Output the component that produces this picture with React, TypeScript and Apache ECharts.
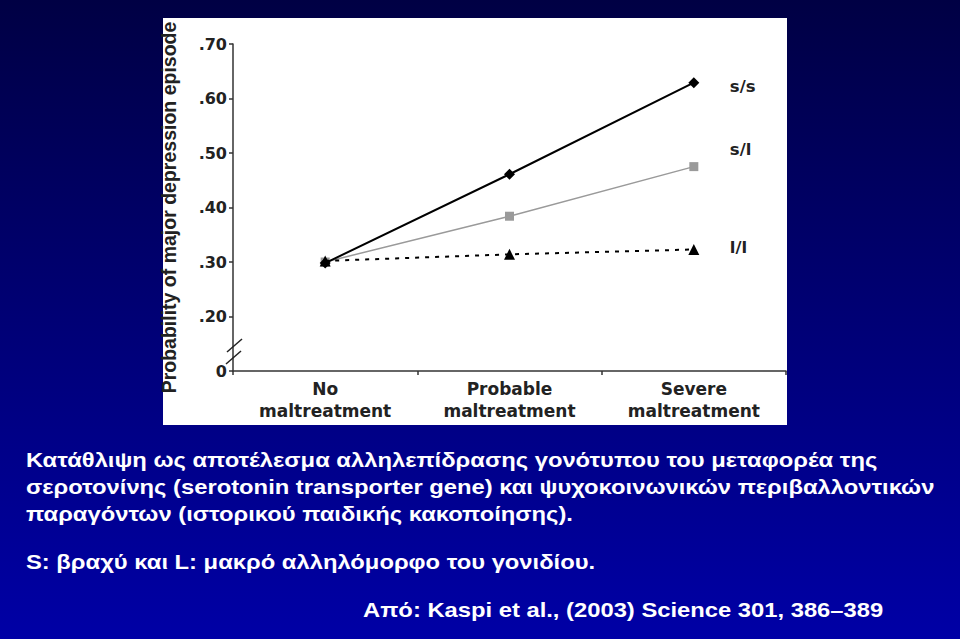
import React, { useEffect, useRef } from "react";
import * as echarts from "echarts";

const categories = ["No\nmaltreatment", "Probable\nmaltreatment", "Severe\nmaltreatment"];
const ssValues = [0.298, 0.461, 0.629];
const slValues = [0.3, 0.384, 0.475];
const llValues = [0.302, 0.314, 0.323];
const seriesNames = ["s/s", "s/l", "l/l"];
const yAxisTitle = "Probability of major depression episode";
const captionLines = [
  "Κατάθλιψη ως αποτέλεσμα αλληλεπίδρασης γονότυπου του μεταφορέα της",
  "σεροτονίνης (serotonin transporter gene) και ψυχοκοινωνικών περιβαλλοντικών",
  "παραγόντων (ιστορικού παιδικής κακοποίησης).",
  "S: βραχύ και L: μακρό αλληλόμορφο του γονιδίου.",
];
const sourceLine = "Από: Kaspi et al., (2003) Science 301, 386–389";

const chartFont = "DejaVu Sans";
const labelColor = "#222";

export default function App() {
  const ref = useRef<HTMLDivElement>(null);
  useEffect(() => {
    if (!ref.current) return;
    const chart = echarts.init(ref.current, null, { renderer: "svg" });
    const captionY = [460, 487, 514, 562];
    const captionFont = 'bold 20.5px "Liberation Sans"';
    const endLabel = (dy: number) => ({
      show: true,
      formatter: "{a}",
      distance: 36,
      offset: [0, dy],
      color: labelColor,
      fontFamily: chartFont,
      fontWeight: "bold",
      fontSize: 16.5,
    });
    chart.setOption({
      animation: false,
      backgroundColor: {
        type: "linear",
        x: 0,
        y: 0,
        x2: 0,
        y2: 1,
        colorStops: [
          { offset: 0, color: "#000044" },
          { offset: 1, color: "#0000a6" },
        ],
      },
      grid: { left: 233, right: 174, top: 44, bottom: 268 },
      xAxis: {
        type: "category",
        data: categories,
        boundaryGap: true,
        axisLine: { lineStyle: { color: "#333", width: 1.5 } },
        axisTick: { show: true, length: 4, lineStyle: { color: "#333", width: 1.5 } },
        axisLabel: {
          color: labelColor,
          fontFamily: chartFont,
          fontWeight: "bold",
          fontSize: 17,
          lineHeight: 22,
          margin: 7,
        },
      },
      yAxis: {
        type: "value",
        min: 0.1,
        max: 0.7,
        interval: 0.1,
        name: yAxisTitle,
        nameLocation: "middle",
        nameGap: 54,
        nameTextStyle: {
          color: labelColor,
          fontFamily: "Liberation Sans",
          fontWeight: "bold",
          fontSize: 19.5,
        },
        splitLine: { show: false },
        axisLine: { show: true, lineStyle: { color: "#333", width: 1.5 } },
        axisTick: { show: true, length: 4, lineStyle: { color: "#333", width: 1.5 } },
        axisLabel: {
          color: labelColor,
          fontFamily: chartFont,
          fontWeight: "bold",
          fontSize: 16,
          margin: 6,
          formatter: (v: number) => (v < 0.15 ? "0" : "." + Math.round(v * 100)),
        },
      },
      series: [
        {
          name: seriesNames[1],
          type: "line",
          data: slValues,
          symbol: "rect",
          symbolSize: 9,
          itemStyle: { color: "#9a9a9a" },
          lineStyle: { color: "#9a9a9a", width: 1.5 },
          endLabel: endLabel(-17),
          z: 2,
        },
        {
          name: seriesNames[0],
          type: "line",
          data: ssValues,
          symbol: "diamond",
          symbolSize: 11,
          itemStyle: { color: "#000" },
          lineStyle: { color: "#000", width: 2 },
          endLabel: endLabel(4),
          z: 3,
        },
        {
          name: seriesNames[2],
          type: "line",
          data: llValues,
          symbol: "triangle",
          symbolSize: 11,
          itemStyle: { color: "#000" },
          lineStyle: { color: "#000", width: 2, type: [4, 6] },
          endLabel: endLabel(-2),
          z: 4,
        },
      ],
      graphic: [
        {
          type: "rect",
          shape: { x: 163, y: 18, width: 624, height: 407 },
          style: { fill: "#ffffff" },
          z: -10,
        },
        {
          type: "line",
          shape: { x1: 227, y1: 352, x2: 242, y2: 339 },
          style: { stroke: "#222", lineWidth: 1.5 },
          z: 10,
        },
        {
          type: "line",
          shape: { x1: 226, y1: 364, x2: 241, y2: 351 },
          style: { stroke: "#222", lineWidth: 1.5 },
          z: 10,
        },
        ...captionLines.map((t, i) => ({
          type: "text",
          x: 26,
          y: captionY[i],
          scaleX: 1.16,
          style: {
            text: t,
            fill: "#ffffff",
            font: captionFont,
            textVerticalAlign: "middle",
          },
          z: 10,
        })),
        {
          type: "text",
          x: 363,
          y: 610,
          scaleX: 1.16,
          style: {
            text: sourceLine,
            fill: "#ffffff",
            font: captionFont,
            textVerticalAlign: "middle",
          },
          z: 10,
        },
      ],
    });
    return () => chart.dispose();
  }, []);
  return (
    <div
      ref={ref}
      style={{ position: "absolute", left: 0, top: 0, width: 960, height: 639 }}
    />
  );
}
